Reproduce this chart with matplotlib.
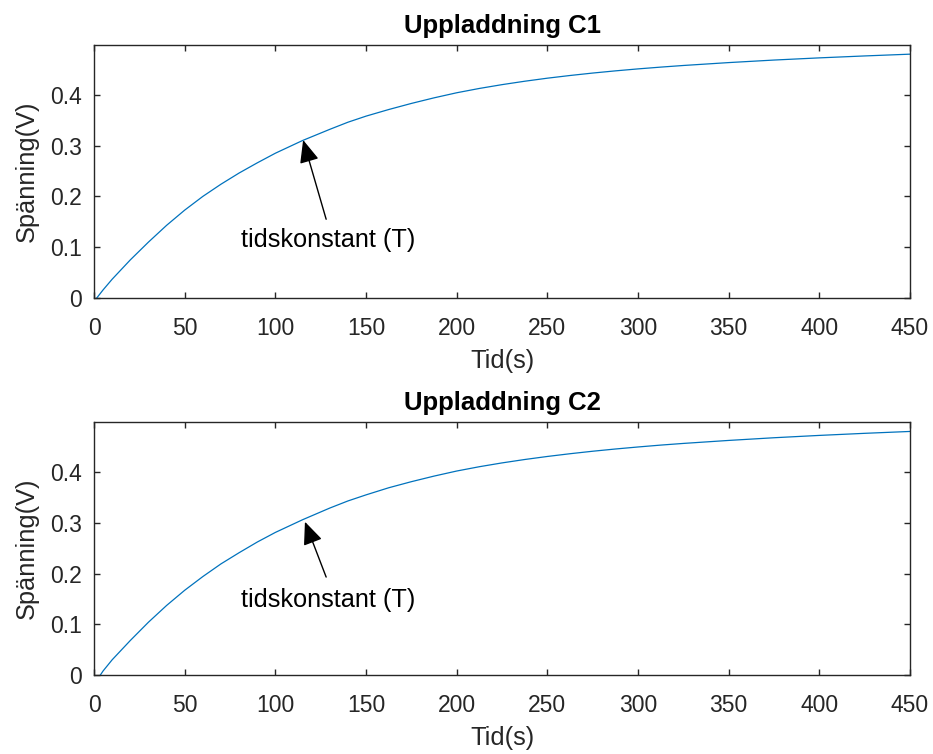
import matplotlib
matplotlib.use("Agg")
import matplotlib.pyplot as plt

plt.rcParams['font.family'] = ['Liberation Sans', 'DejaVu Sans']

# tid (s) and spänning (V)
t_c1 = [1.5, 5, 10, 20, 30, 40, 50, 60, 70, 80, 90, 100, 115, 130, 140, 150,
        162.5, 175, 187.5, 200, 212.5, 225, 237.5, 250, 262.5, 275, 287.5,
        300, 312.5, 325, 350, 375, 400, 425, 450]
v_c1 = [0.0, 0.016, 0.037, 0.075, 0.110, 0.143, 0.173, 0.200, 0.224, 0.246,
        0.266, 0.285, 0.310, 0.332, 0.346, 0.358, 0.371, 0.383, 0.394, 0.404,
        0.4125, 0.4200, 0.4267, 0.4327, 0.438, 0.4428, 0.4471, 0.451, 0.4545,
        0.4577, 0.4634, 0.4684, 0.4727, 0.4765, 0.480]

t_c2 = [3.5, 5, 10, 20, 30, 40, 50, 60, 70, 80, 90, 100, 115, 130, 140, 150,
        162.5, 175, 187.5, 200, 212.5, 225, 237.5, 250, 262.5, 275, 287.5,
        300, 312.5, 325, 350, 375, 400, 425, 450]
v_c2 = [0.0, 0.008, 0.030, 0.068, 0.104, 0.137, 0.167, 0.194, 0.219, 0.241,
        0.262, 0.281, 0.306, 0.329, 0.343, 0.355, 0.369, 0.381, 0.392, 0.402,
        0.4105, 0.4180, 0.4247, 0.4307, 0.4361, 0.4410, 0.4454, 0.4494, 0.4531,
        0.4564, 0.4623, 0.4676, 0.4722, 0.4763, 0.480]

titles = ["Uppladdning C1", "Uppladdning C2"]
arrow_tip = [(115.3, 0.311), (116.3, 0.302)]
arrow_tail = [(128.0, 0.155), (128.0, 0.193)]
label_pos = [(129.0, 0.115), (129.0, 0.148)]

x_ticks = list(range(0, 451, 50))
y_ticks = [0, 0.1, 0.2, 0.3, 0.4]
y_tick_labels = ["0", "0.1", "0.2", "0.3", "0.4"]

line_color = "#0072BD"
axis_color = "#262626"

fig = plt.figure(figsize=(9.33, 7.54), dpi=100)
ax1 = fig.add_axes([0.1008, 0.6048, 0.8746, 0.3355])
ax2 = fig.add_axes([0.1008, 0.1048, 0.8746, 0.3351])

for ax, t, v, title, tip, tail, lab in zip([ax1, ax2], [t_c1, t_c2], [v_c1, v_c2],
                                            titles, arrow_tip, arrow_tail, label_pos):
    ax.plot(t, v, color=line_color, lw=0.9)
    ax.set_xlim(0, 450)
    ax.set_ylim(0, 0.498)
    ax.set_xticks(x_ticks)
    ax.set_yticks(y_ticks)
    ax.set_yticklabels(y_tick_labels)
    ax.tick_params(direction='in', length=4.5, width=1.0, colors=axis_color,
                   labelsize=16.5, top=True, right=True)
    ax.tick_params(axis='x', pad=14)
    ax.tick_params(axis='y', pad=9)
    for sp in ax.spines.values():
        sp.set_color(axis_color)
        sp.set_linewidth(1.0)
    ax.set_xlabel("Tid(s)", fontsize=18.3, color=axis_color, labelpad=6)
    ax.set_ylabel("Spänning(V)", fontsize=18.3, color=axis_color, labelpad=8)
    ax.set_title(title, fontsize=18.5, fontweight='bold', pad=9)

    ax.annotate("", xy=tip, xytext=tail,
                arrowprops=dict(arrowstyle='-|>,head_length=1.4,head_width=0.6',
                                color='black', lw=1.0, shrinkA=0, shrinkB=0))
    ax.text(lab[0], lab[1], "tidskonstant (T)", ha='center', va='center',
            fontsize=18.2, color='black')

fig.savefig("out.png", dpi=100)
